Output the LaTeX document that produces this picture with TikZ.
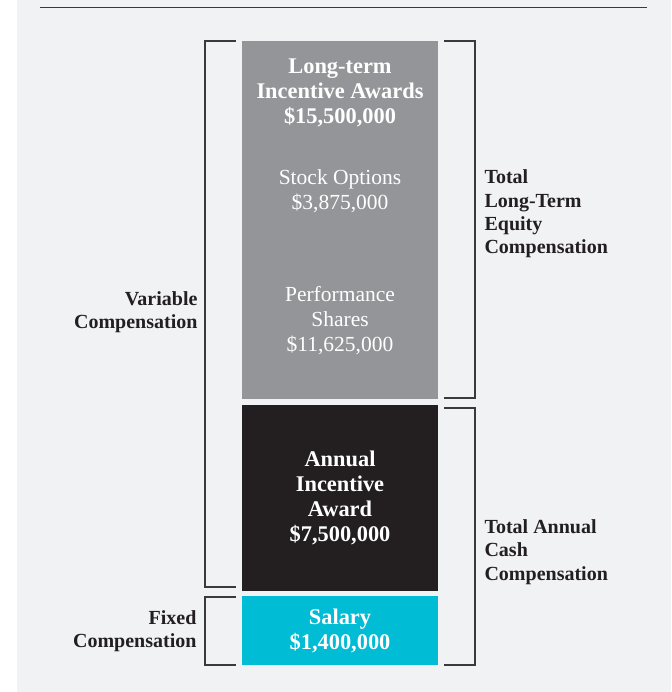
\documentclass[tikz,border=0pt]{standalone}
\usepackage{fontspec}
\setmainfont{Liberation Serif}
\definecolor{bg}{HTML}{F1F2F4}
\definecolor{ltigray}{HTML}{939598}
\definecolor{aiablack}{HTML}{231F20}
\definecolor{salcyan}{HTML}{00BCD4}
\definecolor{ink}{HTML}{231F20}
\definecolor{brk}{HTML}{3A3A3C}
\tikzset{
  block/.style={draw=none, inner sep=0pt, outer sep=0pt, anchor=north west, minimum width=196pt},
  boldtext/.style={text=white, align=center, font=\fontsize{22.4}{25}\selectfont\bfseries},
  regtext/.style={text=white, align=center, font=\fontsize{21.5}{25}\selectfont},
  sidetext/.style={text=ink, font=\fontsize{20}{23.3}\selectfont\bfseries},
  bracket/.style={draw=brk, line width=1.3pt},
  rule/.style={draw=brk, line width=1pt}
}
\begin{document}
\begin{tikzpicture}[x=1pt,y=-1pt]
\useasboundingbox (0,0) rectangle (671,692);
\fill[white] (0,0) rectangle (671,692);
\fill[bg] (17,0) rectangle (671,692);
\coordinate (ruleL) at (40,7.5);
\coordinate (ruleR) at (647,7.5);
\draw[rule] (ruleL) -- (ruleR);
% blocks
\node[block, fill=ltigray, minimum height=358pt] (lti) at (242,41) {};
\node[block, fill=aiablack, minimum height=186pt] (aia) at (242,405) {};
\node[block, fill=salcyan, minimum height=69pt] (sal) at (242,595.5) {};
% block texts
\node[boldtext] (ltit) at (340,93) {Long-term\\Incentive Awards\\\$15,500,000};
\node[regtext] (stock) at (340,191.5) {Stock Options\\\$3,875,000};
\node[regtext] (perf) at (340,321) {Performance\\Shares\\\$11,625,000};
\node[boldtext] (aiat) at (340,498) {Annual\\Incentive\\Award\\\$7,500,000};
\node[boldtext] (salt) at (340,631) {Salary\\\$1,400,000};
% side labels
\node[sidetext, align=right, anchor=east] (var) at (201,312) {Variable\\Compensation};
\node[sidetext, align=right, anchor=east] (fix) at (200,631) {Fixed\\Compensation};
\node[sidetext, align=left, anchor=west] (eq) at (481,214) {Total\\Long-Term\\Equity\\Compensation};
\node[sidetext, align=left, anchor=west] (cash) at (481,552) {Total Annual\\Cash\\Compensation};
% brackets
\coordinate (v1) at (236,41); \coordinate (v2) at (205,41);
\coordinate (v3) at (205,587); \coordinate (v4) at (236,587);
\draw[bracket] (v1) -- (v2) -- (v3) -- (v4);
\coordinate (f1) at (236,597); \coordinate (f2) at (205,597);
\coordinate (f3) at (205,665); \coordinate (f4) at (236,665);
\draw[bracket] (f1) -- (f2) -- (f3) -- (f4);
\coordinate (e1) at (444,41); \coordinate (e2) at (475,41);
\coordinate (e3) at (475,398); \coordinate (e4) at (444,398);
\draw[bracket] (e1) -- (e2) -- (e3) -- (e4);
\coordinate (c1) at (444,408); \coordinate (c2) at (475,408);
\coordinate (c3) at (475,665); \coordinate (c4) at (444,665);
\draw[bracket] (c1) -- (c2) -- (c3) -- (c4);
\end{tikzpicture}
\end{document}
